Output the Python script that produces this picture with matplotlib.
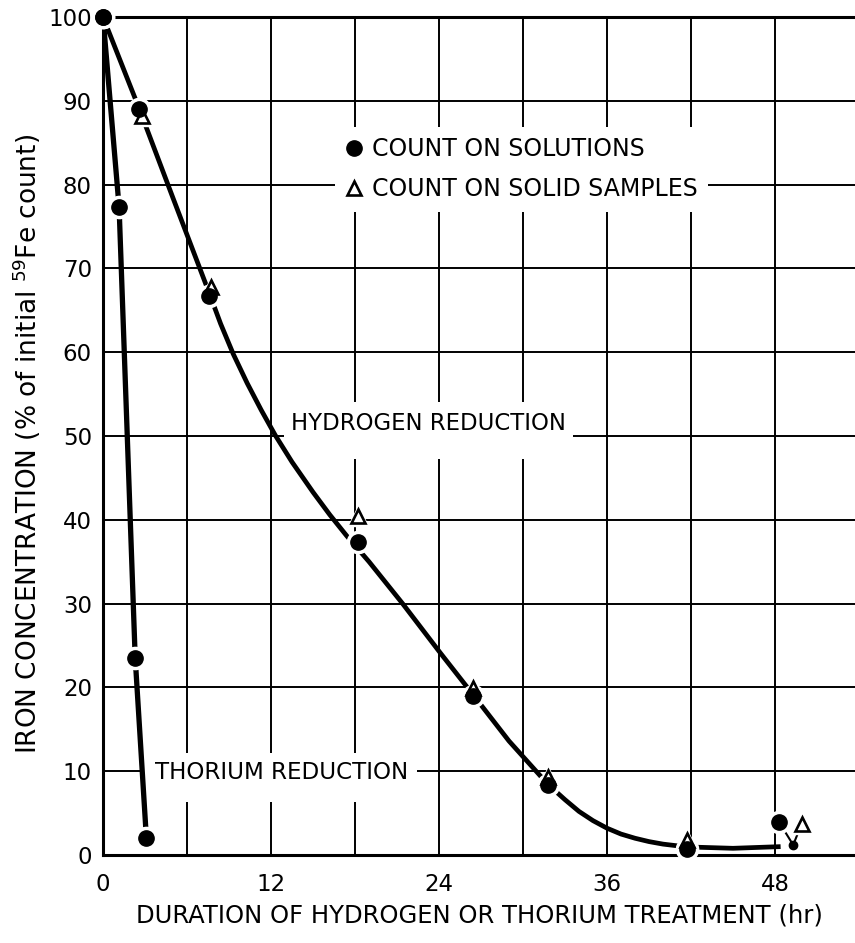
import matplotlib
matplotlib.use("Agg")
import matplotlib.pyplot as plt
from matplotlib.lines import Line2D
from matplotlib.patches import Rectangle

# thorium reduction (count on solutions)
thorium_hr = [0, 1.15, 2.3, 3.1]
thorium_fe = [100, 77.3, 23.5, 2.0]

# hydrogen reduction, count on solutions
hyd_sol_hr = [0, 2.6, 7.6, 18.2, 26.4, 31.8, 41.7, 48.3]
hyd_sol_fe = [100, 89.0, 66.7, 37.4, 19.0, 8.3, 0.7, 3.9]

# hydrogen reduction, count on solid samples
hyd_solid_hr = [2.8, 7.7, 18.2, 26.4, 31.8, 41.7, 49.9]
hyd_solid_fe = [88.2, 67.8, 40.4, 19.9, 9.3, 1.8, 3.7]

# small extra point near the end and the thin links around it
extra_hr = [49.3]
extra_fe = [1.2]
tail_hr = [48.3, 49.3, 49.9]
tail_fe = [3.9, 1.2, 3.7]

# hand-drawn hydrogen curve
curve_hr = [0, 2.6, 5.0, 7.6, 8.4, 9.3, 10.3, 11.3, 12.3, 13.5, 15.0,
            16.2, 17.4, 19.0, 21.4, 24.1, 26.4, 29.0, 31.8, 33.0, 34.0,
            35.0, 36.0, 37.0, 38.0, 39.0, 40.0, 41.0, 42.0, 45.0, 48.4]
curve_fe = [100, 89.0, 78.4, 67.0, 63.4, 59.8, 56.3, 53.1, 50.1, 46.9, 43.3,
            40.6, 38.1, 35.0, 30.0, 24.1, 19.2, 13.6, 8.4, 6.6, 5.2,
            4.1, 3.2, 2.5, 2.0, 1.6, 1.3, 1.1, 0.95, 0.8, 1.0]

major_ticks = [0, 12, 24, 36, 48]
minor_ticks = [6, 18, 30, 42]
y_ticks = list(range(0, 101, 10))

plt.rcParams["font.family"] = ["DejaVu Sans"]

fig = plt.figure(figsize=(8.55, 9.43), dpi=100)
ax = fig.add_axes([103 / 855, 88 / 943, 752 / 855, 838 / 943])
ax.set_xlim(0, 752 / 14)
ax.set_ylim(0, 100)

ax.set_xticks(major_ticks)
ax.set_xticks(minor_ticks, minor=True)
ax.set_yticks(y_ticks)
ax.tick_params(which="both", length=0)
ax.tick_params(axis="x", pad=13, labelsize=16.5)
ax.tick_params(axis="y", pad=8, labelsize=16.5)
ax.grid(which="both", color="black", linewidth=1.4, zorder=0.5)
ax.set_axisbelow(True)

for side in ["left", "bottom", "top"]:
    ax.spines[side].set_linewidth(2.2)
ax.spines["right"].set_visible(False)

# white patches behind the labels (they break the grid in the original)
ax.add_patch(Rectangle((12.9, 47.3), 20.7, 6.8, facecolor="white",
                       edgecolor="none", zorder=1))
ax.add_patch(Rectangle((2.9, 6.3), 19.5, 5.9, facecolor="white",
                       edgecolor="none", zorder=1))

# curves
ax.plot(thorium_hr, thorium_fe, color="black", lw=3.8, zorder=2,
        solid_capstyle="butt")
ax.plot(curve_hr, curve_fe, color="black", lw=3.4, zorder=2,
        solid_capstyle="butt", solid_joinstyle="round")
ax.plot(tail_hr, tail_fe, color="black", lw=1.5, zorder=2)

# white halos so the lines break around the points
halo = dict(linestyle="none", color="white", zorder=3, clip_on=False)
ax.plot(thorium_hr, thorium_fe, marker="o", ms=16, **halo)
ax.plot(hyd_sol_hr, hyd_sol_fe, marker="o", ms=16, **halo)
ax.plot(hyd_solid_hr, hyd_solid_fe, marker="^", ms=14, **halo)

ax.plot(hyd_solid_hr, hyd_solid_fe, linestyle="none", marker="^", ms=10.5,
        mfc="white", mec="black", mew=1.9, zorder=4, clip_on=False)
ax.plot(thorium_hr, thorium_fe, linestyle="none", marker="o", ms=11,
        color="black", zorder=5, clip_on=False)
ax.plot(hyd_sol_hr, hyd_sol_fe, linestyle="none", marker="o", ms=11,
        color="black", zorder=5, clip_on=False)
ax.plot(extra_hr, extra_fe, linestyle="none", marker="o", ms=6,
        color="black", zorder=5)

# legend
handles = [
    Line2D([], [], linestyle="none", marker="o", ms=11, color="black"),
    Line2D([], [], linestyle="none", marker="^", ms=10.5, mfc="white",
           mec="black", mew=1.9),
]
leg = ax.legend(handles, ["COUNT ON SOLUTIONS", "COUNT ON SOLID SAMPLES"],
                loc="upper left", bbox_to_anchor=(16.6 / 53.71, 0.869),
                frameon=True, fancybox=False, framealpha=1,
                facecolor="white", edgecolor="none", fontsize=17,
                handlelength=0.7, handletextpad=0.4, labelspacing=0.68,
                borderpad=0.45, borderaxespad=0)
leg.set_zorder(6)

ax.text(13.4, 51.5, "HYDROGEN REDUCTION", fontsize=16.4, va="center",
        ha="left", zorder=6)
ax.text(3.7, 9.9, "THORIUM REDUCTION", fontsize=16.6, va="center",
        ha="left", zorder=6)

ax.set_xlabel("DURATION OF HYDROGEN OR THORIUM TREATMENT (hr)",
              fontsize=17.5, labelpad=5)
ax.set_ylabel("IRON CONCENTRATION (% of initial $^{59}$Fe count)",
              fontsize=19)
ax.yaxis.set_label_coords(-60 / 752, 0.49)

fig.savefig("out.png", dpi=100)
